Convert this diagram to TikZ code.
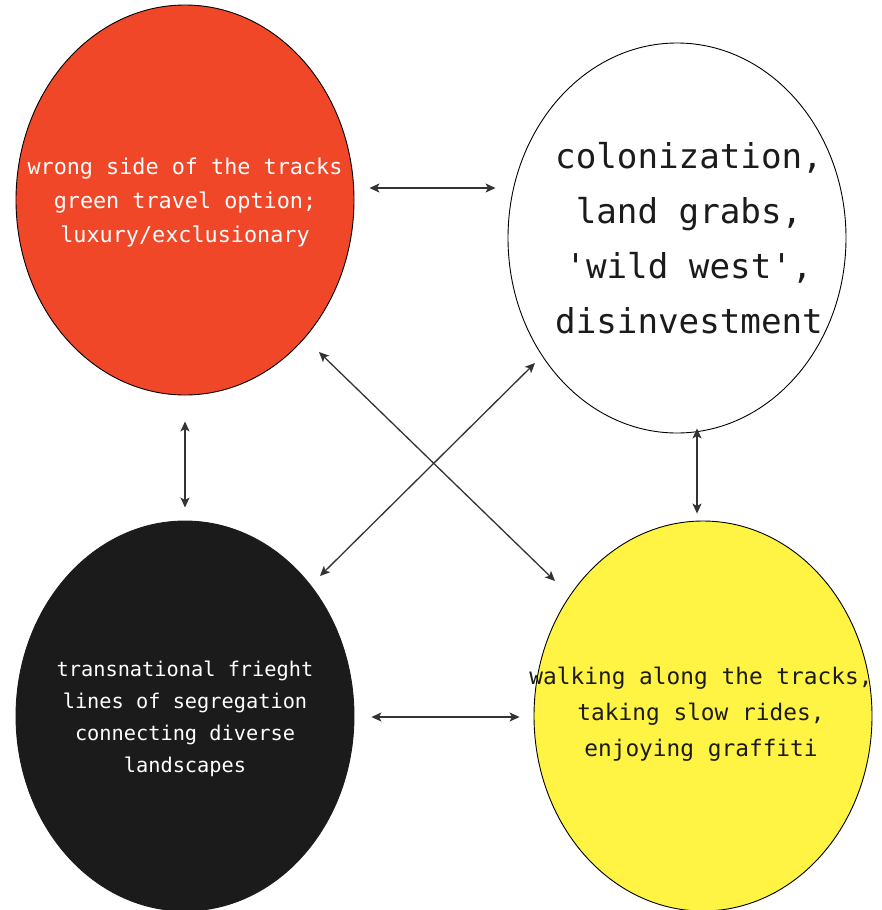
\documentclass[tikz,border=0pt]{standalone}
\usepackage{fontspec}
\newfontfamily\monofam{DejaVu Sans Mono}
\usetikzlibrary{shapes.geometric,arrows.meta}
\definecolor{cred}{HTML}{F04728}
\definecolor{cyellow}{HTML}{FFF343}
\definecolor{cblack}{HTML}{1B1B1B}
\definecolor{carrow}{HTML}{333333}
\tikzset{
  blob/.style={ellipse,draw=black,line width=0.9pt,inner sep=0pt,minimum width=338pt,minimum height=390pt},
  biarrow/.style={draw=carrow,line width=1.3pt,{Stealth[length=10pt,width=9pt,inset=2.5pt]}-{Stealth[length=10pt,width=9pt,inset=2.5pt]}},
  lbl/.style={align=center,inner sep=0pt}
}
\begin{document}
\begin{tikzpicture}[x=1pt,y=-1pt]
\useasboundingbox (0,0) rectangle (881,910);
\fill[white] (0,0) rectangle (881,910);
\node[blob,fill=cred] (red) at (185,200) {};
\node[blob,fill=white] (white) at (677,238) {};
\node[blob,fill=cblack,draw=cblack] (black) at (185,716) {};
\node[blob,fill=cyellow] (yellow) at (703,716) {};
\node[lbl,text=white,font=\monofam\fontsize{21.8}{34}\selectfont] (redt) at (185,202)
  {wrong side of the tracks\\green travel option;\\luxury/exclusionary};
\node[lbl,text=cblack,font=\monofam\fontsize{34.2}{55}\selectfont] (whitet) at (689,238)
  {colonization,\\land grabs,\\'wild west',\\disinvestment};
\node[lbl,text=white,font=\monofam\fontsize{20.3}{32}\selectfont] (blackt) at (185,719)
  {transnational frieght\\lines of segregation\\connecting diverse\\landscapes};
\node[lbl,text=cblack,font=\monofam\fontsize{22.8}{36}\selectfont] (yellowt) at (701,714)
  {walking along the tracks,\\taking slow rides,\\enjoying graffiti};
\draw[biarrow] ([shift={(15,-12)}]red.east) -- ([shift={(-12,-50)}]white.west);
\draw[biarrow] ([shift={(0,26)}]red.south) -- ([shift={(0,-13)}]black.north);
\draw[biarrow] ([shift={(20,-5)}]white.south) -- ([shift={(-6,-7)}]yellow.north);
\draw[biarrow] ([shift={(17,1)}]black.east) -- ([shift={(-14,1)}]yellow.west);
\draw[biarrow] ([shift={(134,152)}]red.center) -- ([shift={(-148,-135)}]yellow.center);
\draw[biarrow] ([shift={(-142,125)}]white.center) -- ([shift={(135,-140)}]black.center);
\end{tikzpicture}
\end{document}
